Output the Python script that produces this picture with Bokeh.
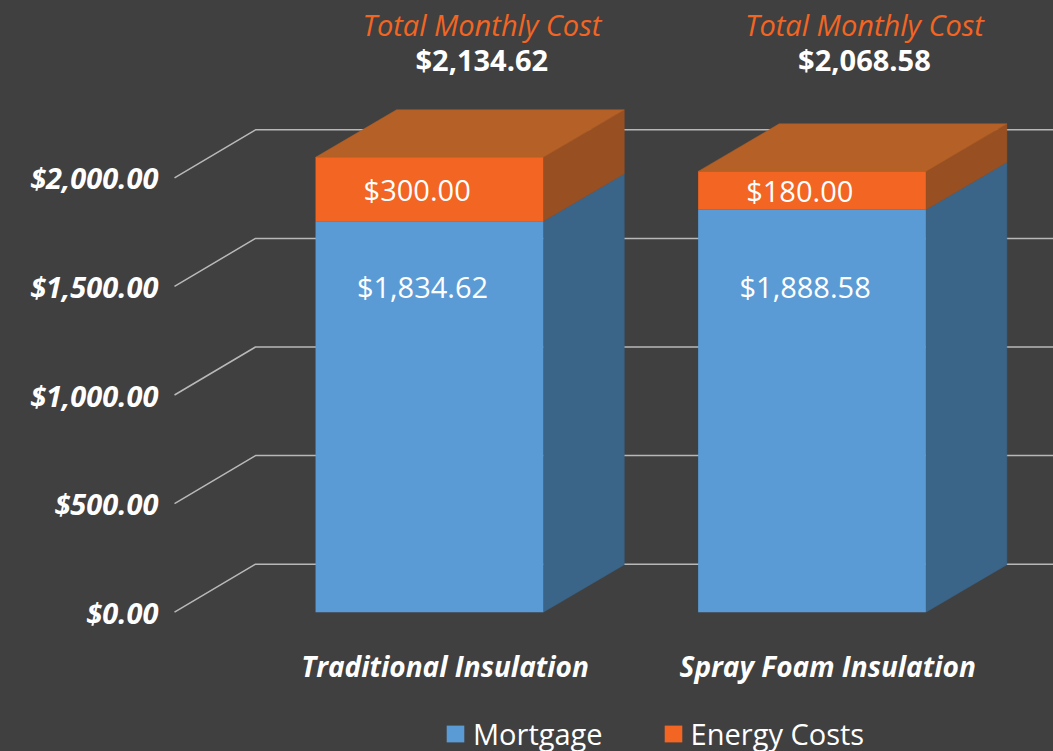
from bokeh.plotting import figure
from bokeh.models import (Range1d, FixedTicker, NumeralTickFormatter, Label,
                          Legend, LegendItem, ColumnDataSource)
from bokeh.core.properties import value
from bokeh.embed import file_html
from bokeh.resources import INLINE

# ---- data ----
categories = ["Traditional Insulation", "Spray Foam Insulation"]
mortgage = [1834.62, 1888.58]
energy = [300.00, 180.00]
tick_values = [0, 500, 1000, 1500, 2000]
series_names = ["Mortgage", "Energy Costs"]
total_caption = "Total Monthly Cost"

totals = [m + e for m, e in zip(mortgage, energy)]
idx = list(range(len(categories)))

# ---- style / geometry ----
BG = "#404040"
BLUE, BLUE_SIDE = "#5b9bd5", "#3a6488"
ORANGE, ORANGE_TOP, ORANGE_SIDE = "#f26522", "#b56026", "#985022"
GRID = "#b8b8b8"
FONT = value("Open Sans")
HW = 0.2976          # half width of bar front face (category units)
DX = 0.2117          # depth offset in x (category units)
DY_BAR = 223.0       # depth offset in y (bar range units)
DY_WALL = 221.0      # depth offset in y (wall range units)
X0, X1 = -0.6767, 1.6312
FRONT_X = -0.6662

p = figure(width=1053, height=751, output_backend="svg", toolbar_location=None,
           x_range=Range1d(X0, X1), y_range=Range1d(-641.3, 2816.3),
           x_axis_location=None, y_axis_location="left",
           min_border_left=170, min_border_right=0, min_border_top=0, min_border_bottom=0)
p.extra_y_ranges = {"bars": Range1d(-653.7, 2870.5)}
p.background_fill_color = BG
p.border_fill_color = BG
p.styles = {"background-color": BG}
p.outline_line_color = None
p.xgrid.visible = False
p.ygrid.visible = False

ax = p.yaxis[0]
ax.ticker = FixedTicker(ticks=tick_values)
ax.formatter = NumeralTickFormatter(format="$0,0.00")
ax.axis_line_color = None
ax.major_tick_line_color = None
ax.minor_tick_line_color = None
ax.major_tick_in = 0
ax.major_tick_out = 0
ax.major_label_standoff = 12
ax.major_label_text_font = "Open Sans"
ax.major_label_text_font_size = "29px"
ax.major_label_text_font_style = "bold italic"
ax.major_label_text_color = "white"

# ---- back wall / floor grid lines ----
gxs = [[FRONT_X, FRONT_X + DX, X1] for _ in tick_values]
gys = [[v, v + DY_WALL, v + DY_WALL] for v in tick_values]
p.multi_line(gxs, gys, line_color=GRID, line_width=1.5)

# ---- bars ----
left = [i - HW for i in idx]
right = [i + HW for i in idx]
src = ColumnDataSource(dict(left=left, right=right, zero=[0] * len(idx),
                            mortgage=mortgage, total=totals))

def side(i, y0, y1):
    r = right[i]
    return [r, r + DX, r + DX, r], [y0, y0 + DY_BAR, y1 + DY_BAR, y1]

def top(i, y):
    l, r = left[i], right[i]
    return [l, r, r + DX, l + DX], [y, y, y + DY_BAR, y + DY_BAR]

sm = [side(i, 0, mortgage[i]) for i in idx]
se = [side(i, mortgage[i], totals[i]) for i in idx]
tp = [top(i, totals[i]) for i in idx]
p.patches([s[0] for s in sm], [s[1] for s in sm], fill_color=BLUE_SIDE,
          line_color=BLUE_SIDE, line_width=0.5, y_range_name="bars")
p.patches([s[0] for s in se], [s[1] for s in se], fill_color=ORANGE_SIDE,
          line_color=ORANGE_SIDE, line_width=0.5, y_range_name="bars")
p.patches([s[0] for s in tp], [s[1] for s in tp], fill_color=ORANGE_TOP,
          line_color=ORANGE_TOP, line_width=0.5, y_range_name="bars")
r_m = p.quad(left="left", right="right", bottom="zero", top="mortgage", source=src,
             fill_color=BLUE, line_color=None, y_range_name="bars")
r_e = p.quad(left="left", right="right", bottom="mortgage", top="total", source=src,
             fill_color=ORANGE, line_color=None, y_range_name="bars")

# ---- data labels ----
p.text(x=[i - 0.032 for i in idx], y=[m + e / 2 for m, e in zip(mortgage, energy)],
       text=[f"${e:,.2f}" for e in energy], text_color="white", text_font=FONT,
       text_font_size="29px", text_align="center", text_baseline="middle",
       y_range_name="bars")
for i, m in zip(idx, mortgage):
    p.add_layout(Label(x=i - 0.018, y=465, y_units="screen", text=f"${m:,.2f}",
                       text_color="white", text_font="Open Sans", text_font_size="29px",
                       text_align="center", text_baseline="middle"))

# ---- totals captions ----
for i, t in zip(idx, totals):
    p.add_layout(Label(x=i + 0.137, y=727, y_units="screen", text=total_caption,
                       text_color=ORANGE, text_font="Open Sans", text_font_size="29px",
                       text_font_style="italic", text_align="center",
                       text_baseline="middle"))
    p.add_layout(Label(x=i + 0.137, y=692, y_units="screen", text=f"${t:,.2f}",
                       text_color="white", text_font="Open Sans", text_font_size="29px",
                       text_font_style="bold", text_align="center",
                       text_baseline="middle"))

# ---- category labels ----
for i, c in zip(idx, categories):
    p.add_layout(Label(x=i + 0.041, y=85.5, y_units="screen", text=c,
                       text_color="white", text_font="Open Sans", text_font_size="28px",
                       text_font_style="bold italic", text_align="center",
                       text_baseline="middle"))

# ---- legend ----
legend = Legend(items=[LegendItem(label=series_names[0], renderers=[r_m]),
                       LegendItem(label=series_names[1], renderers=[r_e])],
                orientation="horizontal", location=(274, -2),
                glyph_width=22, glyph_height=21, label_standoff=7, spacing=59,
                padding=0, margin=0, border_line_color=None,
                background_fill_alpha=0, label_text_color="white",
                label_text_font="Open Sans", label_text_font_size="29px")
p.add_layout(legend)

open("out.html", "w").write(file_html(p, INLINE))
